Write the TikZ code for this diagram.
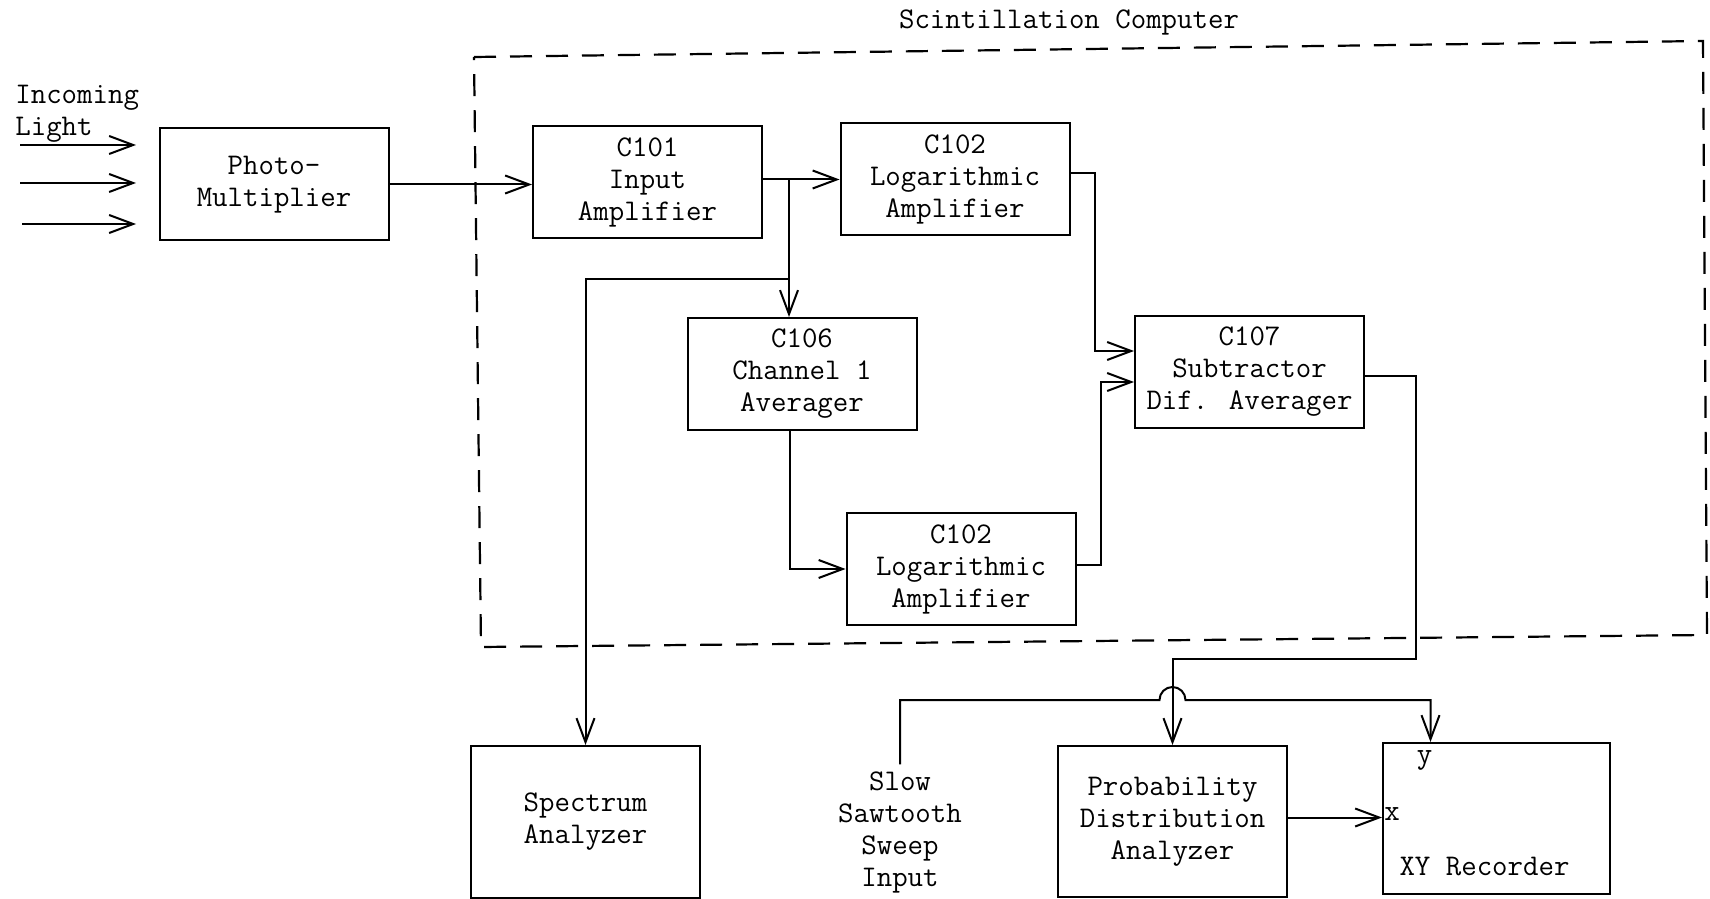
\documentclass[tikz,border=0pt]{standalone}
\usetikzlibrary{arrows.meta}
\begin{document}
\begin{tikzpicture}[x=0.5pt,y=-0.5pt,
  every node/.style={font=\ttfamily\fontsize{15}{16}\selectfont},
  blk/.style={draw,line width=1pt,minimum width=114.5pt,minimum height=56pt,align=center,inner sep=0pt},
  wire/.style={line width=1pt},
  arr/.style={wire,-{Straight Barb[length=12pt,width=9pt]}},
  frame/.style={line width=1.1pt,dash pattern=on 11pt off 7pt}]
\useasboundingbox (0,0) rectangle (1710,899);
% title and frame
\node (title) at (1069,22) {Scintillation Computer};
\coordinate (f1) at (474,57);
\coordinate (f2) at (1703,41);
\coordinate (f3) at (1707,635);
\coordinate (f4) at (481,647);
\draw[frame] (f1) -- (f2) -- (f3) -- (f4) -- cycle;
% blocks
\node[blk] (pm) at (274,184.5) {Photo-\\Multiplier};
\node[blk] (c101) at (647.5,182.5) {C101\\Input\\Amplifier};
\node[blk] (c102a) at (955,179.5) {C102\\Logarithmic\\Amplifier};
\node[blk] (c106) at (802,374) {C106\\Channel 1\\Averager};
\node[blk] (c107) at (1249.5,372) {C107\\Subtractor\\Dif. Averager};
\node[blk] (c102b) at (961,569) {C102\\Logarithmic\\Amplifier};
\node[blk,minimum height=76pt] (spec) at (585.5,822) {Spectrum\\Analyzer};
\node[blk,minimum height=75.5pt] (prob) at (1172.5,821.5) {Probability\\Distribution\\Analyzer};
\node[blk,minimum width=113.5pt,minimum height=75.5pt] (xy) at (1496.5,818.5) {};
\node (yl) at ([xshift=-36pt,yshift=-9pt]xy.north) {y};
\node[anchor=west,inner sep=1pt] (xl) at ([yshift=2pt]xy.west) {x};
\node (xyl) at ([xshift=-6pt,yshift=14pt]xy.south) {XY Recorder};
\node[align=center] (saw) at (900,832) {Slow\\Sawtooth\\Sweep\\Input};
% incoming light
\node[anchor=base west,inner sep=0pt] (inc1) at (15,104) {Incoming};
\node[anchor=base west,inner sep=0pt] (inc2) at (15,136) {Light};
\coordinate (a1) at (20,145); \coordinate (a1e) at (136,145);
\coordinate (a2) at (20,183); \coordinate (a2e) at (136,183);
\coordinate (a3) at (22,224); \coordinate (a3e) at (136,224);
\draw[arr] (a1) -- (a1e);
\draw[arr] (a2) -- (a2e);
\draw[arr] (a3) -- (a3e);
% connectors
\draw[arr] (pm.east) -- (pm.east -| c101.west);
\coordinate (b1) at (c101.east |- c102a.west);
\draw[arr] (b1) -- (c102a.west);
\coordinate (b2) at ([xshift=13pt]b1);
\coordinate (b3) at (788,279);
\draw[arr] (b2) -- (b2 |- c106.north);
\draw[arr] (b3) -| (spec.north);
\coordinate (j1) at (1095,351);
\draw[arr] ([yshift=3pt]c102a.east) -| (j1) -- (j1 -| c107.west);
\coordinate (j2) at (1101,382);
\draw[arr] ([yshift=2pt]c102b.east) -| (j2) -- (j2 -| c107.west);
\draw[arr] ([xshift=-6pt]c106.south) |- (c102b.west);
\coordinate (j3) at (1416,659);
\draw[arr] ([yshift=-2pt]c107.east) -| (j3) -| (prob.north);
\coordinate (hy) at (0,700);
\coordinate (hc) at (prob.north |- hy);
\draw[arr] (saw.north) |- ([xshift=-6.5pt]hc) arc[start angle=180,end angle=0,radius=6.5pt] -| ([xshift=-33pt]xy.north);
\draw[arr] ([yshift=2pt]prob.east) -- ([yshift=2pt]prob.east -| xy.west);
\end{tikzpicture}
\end{document}
